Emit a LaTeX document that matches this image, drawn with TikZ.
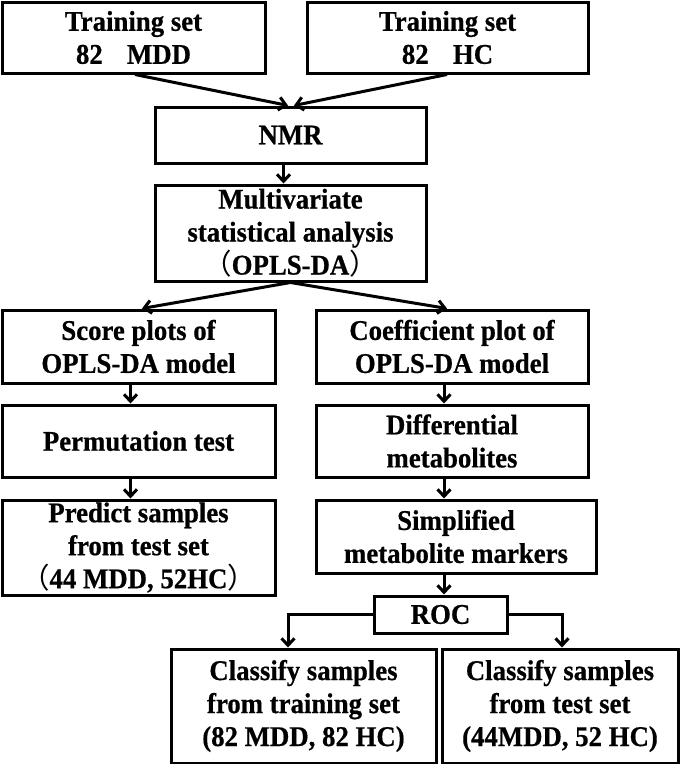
\documentclass[tikz,border=0pt]{standalone}
\usepackage{fontspec}
\setmainfont{Liberation Serif}[BoldFeatures={FakeBold=0.6,FakeStretch=0.94}]
\newfontfamily\cjkfont{Noto Sans CJK SC}
\usetikzlibrary{arrows.meta}
\newcommand{\fwl}{{\cjkfont\mdseries （}}
\newcommand{\fwr}{{\cjkfont\mdseries ）}}
\tikzset{
  box/.style={draw, line width=3pt, align=center, inner sep=0pt,
    font=\fontsize{28.5}{33}\selectfont\bfseries},
  flow/.style={line width=3pt, -{Straight Barb[length=7pt,width=13pt]}},
}

\begin{document}
\begin{tikzpicture} [x=1pt,y=-1pt]
\useasboundingbox (0,0) rectangle (680,764);
% top row
\node[box, minimum width=263, minimum height=71] (trainmdd) at (133.5,37.5) {Training set\\82\hspace{0.85em}MDD};
\node[box, minimum width=281, minimum height=71] (trainhc) at (447.5,37.5) {Training set\\82\hspace{0.85em}HC};
\node[box, minimum width=271, minimum height=56] (nmr) at (290.5,135) {NMR};
\node[box, minimum width=271, minimum height=96] (oplsda) at (290.5,233) {Multivariate\\statistical analysis\\\fwl OPLS-DA\fwr};
% left branch
\node[box, minimum width=273, minimum height=73] (score) at (138.5,346.5) {Score plots of\\OPLS-DA model};
\node[box, minimum width=273, minimum height=72] (perm) at (138.5,441) {Permutation test};
\node[box, minimum width=273, minimum height=95] (predict) at (138.5,547.5) {Predict samples\\from test set\\\fwl 44 MDD, 52HC\fwr};
% right branch
\node[box, minimum width=272, minimum height=73] (coef) at (452,346.5) {Coefficient plot of\\OPLS-DA model};
\node[box, minimum width=272, minimum height=72] (diffmet) at (452,441) {Differential\\metabolites};
\node[box, minimum width=280, minimum height=73] (markers) at (456,536.5) {Simplified\\metabolite markers};
\node[box, minimum width=133, minimum height=37] (roc) at (440.5,614.5) {ROC};
\node[box, minimum width=265, minimum height=114] (clstrain) at (303.5,706) {Classify samples\\from training set\\(82 MDD, 82 HC)};
\node[box, minimum width=236, minimum height=114] (clstest) at (560,706) {Classify samples\\from test set\\(44MDD, 52 HC)};
% connectors
\draw[flow] ([xshift=1.5pt]trainmdd.south) -- ([xshift=-2.5pt]nmr.north);
\draw[flow] ([xshift=-0.5pt]trainhc.south) -- ([xshift=3.5pt]nmr.north);
\draw[flow] ([xshift=-7pt]nmr.south) -- ([xshift=-7pt]oplsda.north);
\draw[flow] (oplsda.south) -- ([xshift=3.5pt]score.north);
\draw[flow] (oplsda.south) -- ([xshift=-5pt]coef.north);
\draw[flow] ([xshift=-8pt]score.south) -- ([xshift=-8pt]perm.north);
\draw[flow] ([xshift=-8pt]perm.south) -- ([xshift=-8pt]predict.north);
\draw[flow] ([xshift=-8pt]coef.south) -- ([xshift=-8pt]diffmet.north);
\draw[flow] ([xshift=-8pt]diffmet.south) -- ([xshift=-12pt]markers.north);
\draw[flow] ([xshift=-12pt]markers.south) -- ([xshift=3.5pt]roc.north);
\draw[flow] (roc.west) -| ([xshift=-15.5pt]clstrain.north);
\draw[flow] (roc.east) -| ([xshift=2pt]clstest.north);
\end{tikzpicture}
\end{document}
